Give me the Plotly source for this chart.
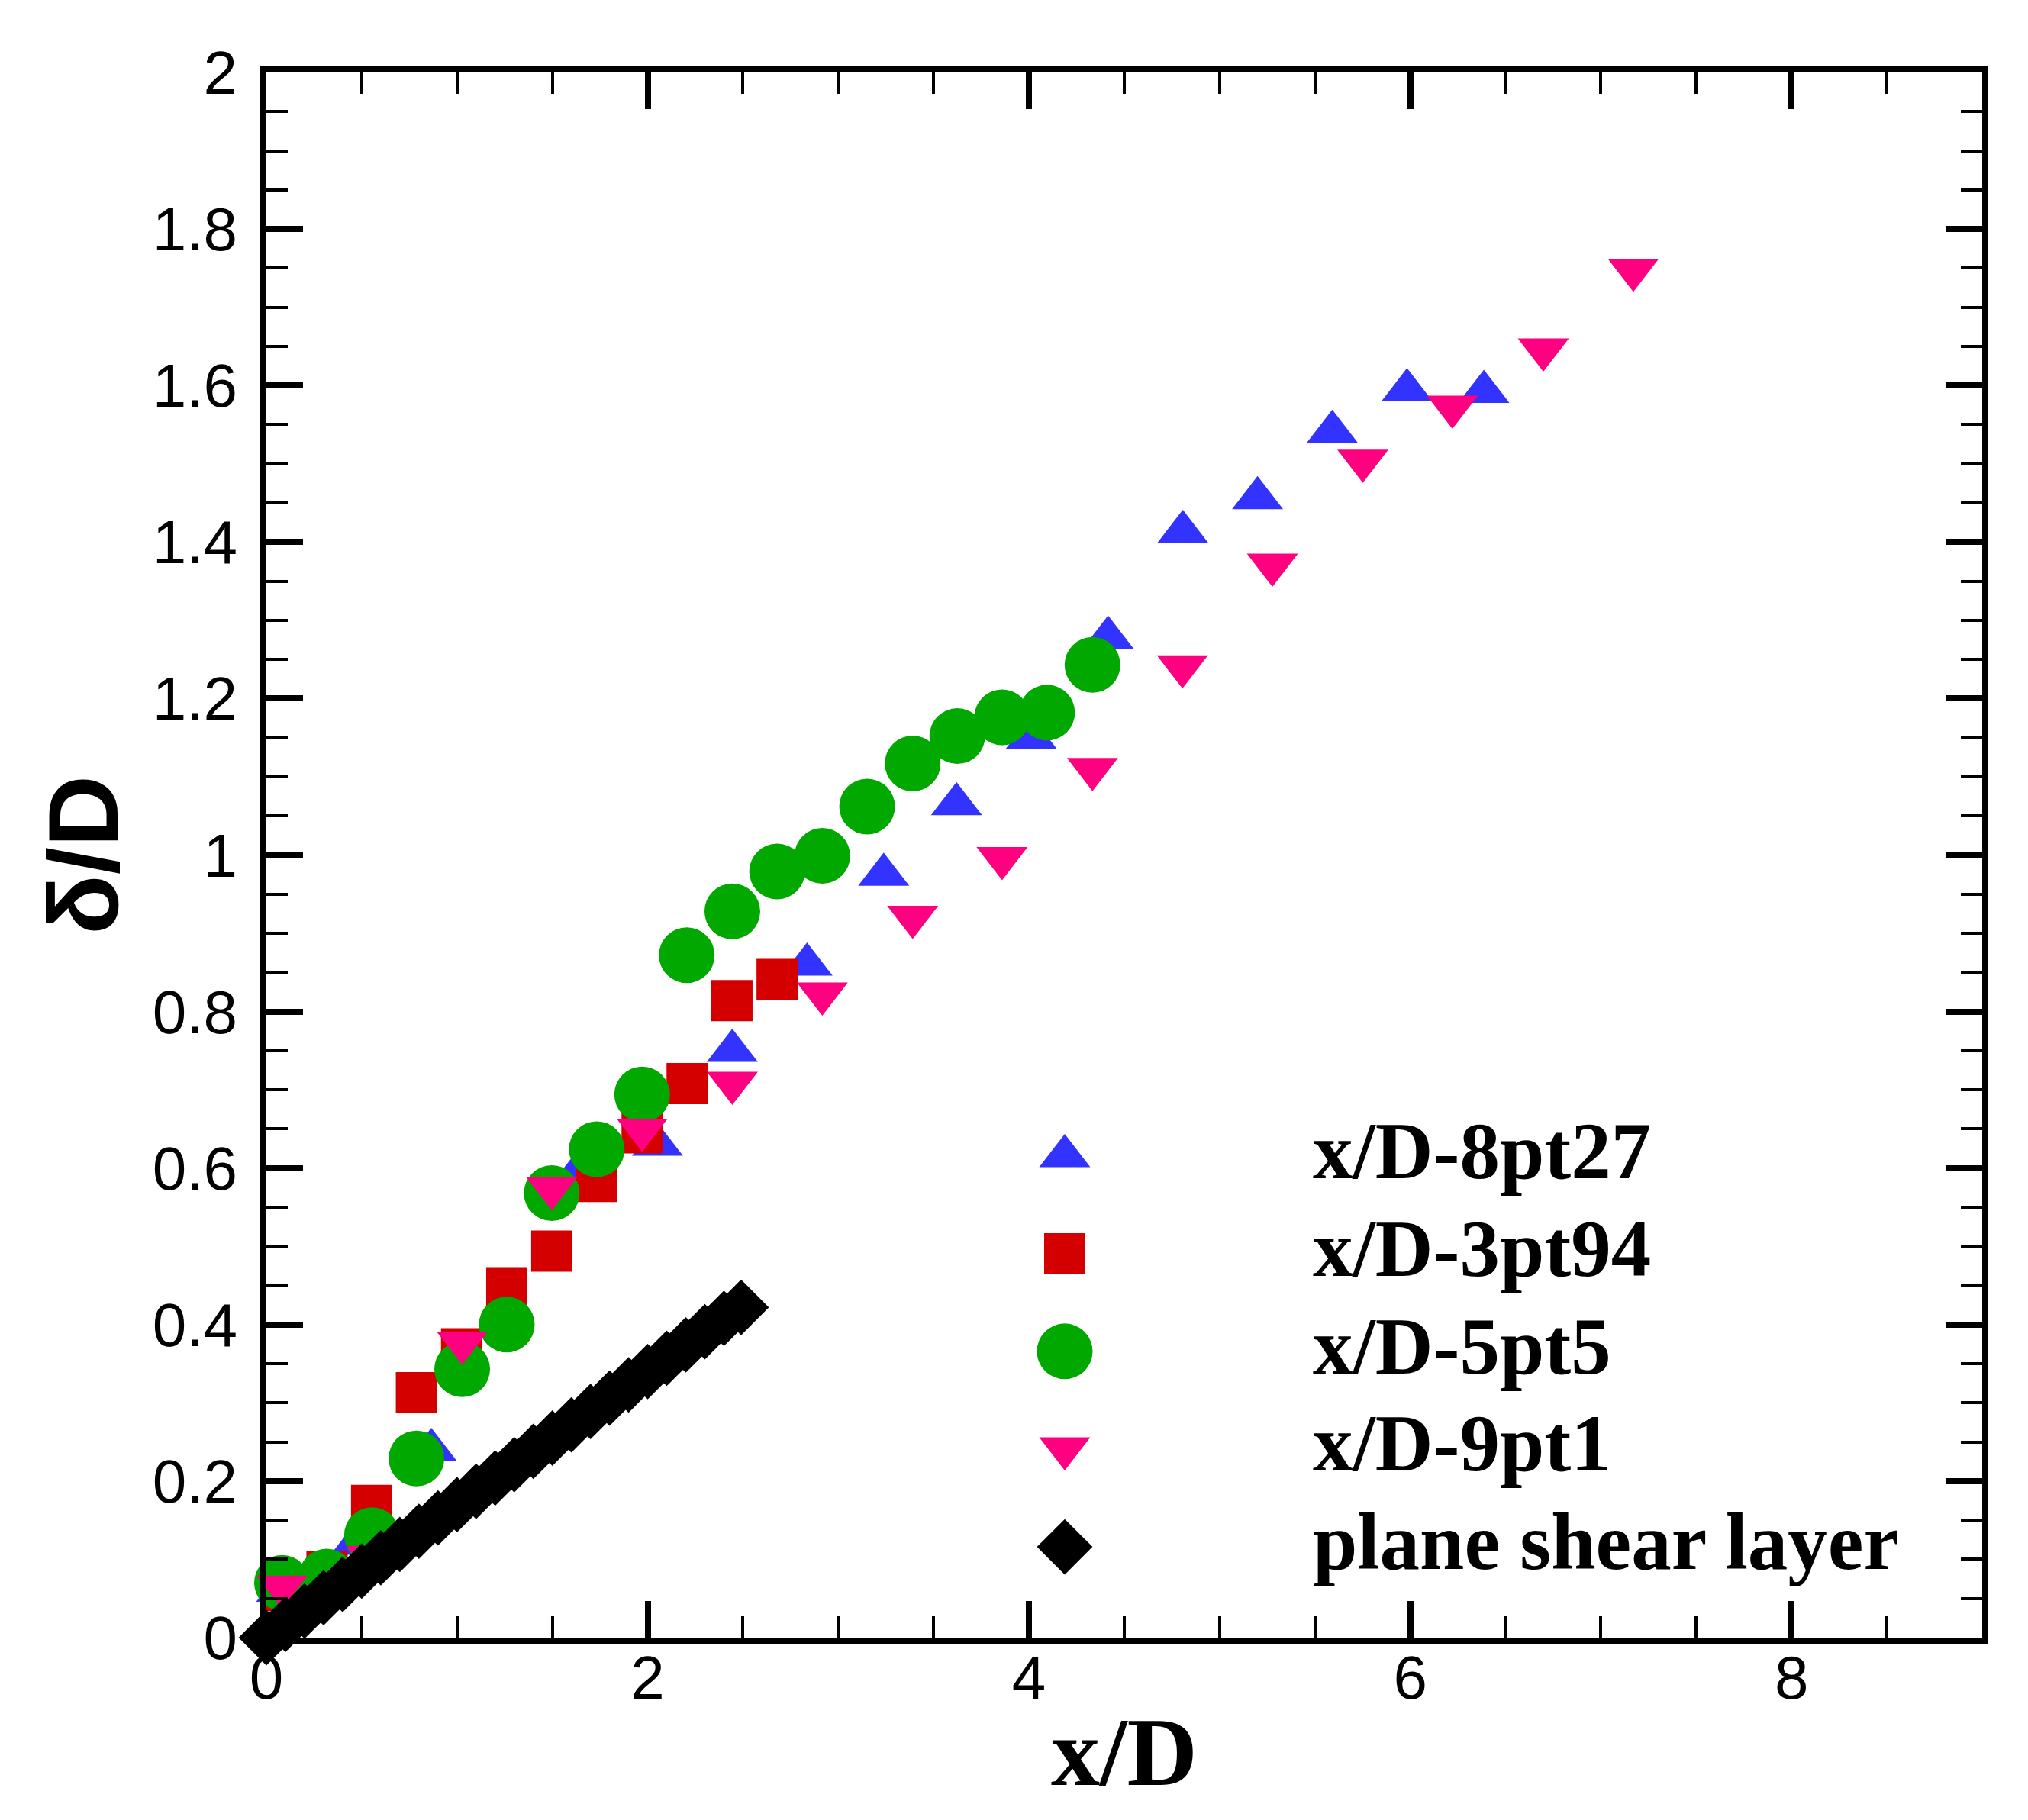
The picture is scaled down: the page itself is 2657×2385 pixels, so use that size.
import plotly.graph_objects as go

# ── DATA ──────────────────────────────────────────────────────────────────────
X_8PT27 = [0.08, 0.47, 0.865, 1.257, 1.649, 2.051, 2.444, 2.836, 3.238, 3.62,
           4.012, 4.415, 4.807, 5.199, 5.591, 5.983, 6.386]
Y_8PT27 = [0.06, 0.12, 0.24, 0.40, 0.60, 0.63, 0.75, 0.86, 0.975, 1.065, 1.15,
           1.278, 1.413, 1.456, 1.541, 1.594, 1.592]

X_3PT94 = [0.08, 0.318, 0.552, 0.787, 1.024, 1.261, 1.497, 1.733, 1.971,
           2.207, 2.442, 2.679]
Y_3PT94 = [0.06, 0.084, 0.169, 0.313, 0.369, 0.447, 0.494, 0.583, 0.645,
           0.708, 0.814, 0.841]

X_5PT5 = [0.082, 0.316, 0.554, 0.787, 1.027, 1.261, 1.497, 1.733, 1.971,
          2.205, 2.444, 2.679, 2.916, 3.151, 3.39, 3.624, 3.859, 4.095, 4.333]
Y_5PT5 = [0.070, 0.078, 0.131, 0.229, 0.343, 0.400, 0.568, 0.624, 0.694,
          0.872, 0.928, 0.979, 0.999, 1.062, 1.117, 1.152, 1.176, 1.182, 1.243]

X_9PT1 = [0.082, 0.553, 1.027, 1.497, 1.971, 2.444, 2.916, 3.39, 3.859, 4.333,
          4.805, 5.277, 5.751, 6.221, 6.698, 7.17]
Y_9PT1 = [0.065, 0.103, 0.377, 0.574, 0.649, 0.709, 0.823, 0.921, 0.996,
          1.110, 1.241, 1.371, 1.504, 1.573, 1.646, 1.748]

X_PSL = [0.0, 0.1, 0.2, 0.3, 0.4, 0.5, 0.6, 0.7, 0.8, 0.9, 1.0, 1.1, 1.2,
         1.3, 1.4, 1.5, 1.6, 1.7, 1.8, 1.9, 2.0, 2.1, 2.2, 2.3, 2.4, 2.49]
Y_PSL = [0.0, 0.017, 0.034, 0.051, 0.068, 0.085, 0.102, 0.119, 0.136, 0.153,
         0.170, 0.187, 0.204, 0.221, 0.238, 0.255, 0.272, 0.289, 0.306, 0.323,
         0.340, 0.357, 0.374, 0.391, 0.408, 0.422]

NAMES = ["x/D-8pt27", "x/D-3pt94", "x/D-5pt5", "x/D-9pt1", "plane shear layer"]

X_TICKS = [0, 2, 4, 6, 8]
X_TICKTEXT = ["0", "2", "4", "6", "8"]
Y_TICKS = [0, 0.2, 0.4, 0.6, 0.8, 1.0, 1.2, 1.4, 1.6, 1.8, 2.0]
Y_TICKTEXT = ["0", "0.2", "0.4", "0.6", "0.8", "1", "1.2", "1.4", "1.6", "1.8", "2"]

# ── STYLE ─────────────────────────────────────────────────────────────────────
W, H = 2657, 2385
SYMBOLS = ["triangle-up", "square", "circle", "triangle-down", "diamond"]
COLORS = ["#3333FF", "#D40000", "#00A800", "#FF0080", "#000000"]
SIZES = [58, 54, 73, 58, 56]
SANS = "Liberation Sans"
SERIF = "Liberation Serif"

series = [
    (X_8PT27, Y_8PT27),
    (X_3PT94, Y_3PT94),
    (X_5PT5, Y_5PT5),
    (X_9PT1, Y_9PT1),
    (X_PSL, Y_PSL),
]

fig = go.Figure()

for k, (xs, ys) in enumerate(series):
    fig.add_trace(go.Scatter(
        x=xs, y=ys, mode="markers", name=NAMES[k], showlegend=False,
        cliponaxis=False,
        marker=dict(symbol=SYMBOLS[k], size=SIZES[k], color=COLORS[k],
                    line=dict(width=0)),
    ))

# hand-made legend on an overlay axis in plot-fraction units
LEG_MARK_X = 0.4653
LEG_TEXT_X = 0.609
LEG_ROWS = [0.3077, 0.2453, 0.1829, 0.1209, 0.0580]
for k in range(len(NAMES)):
    fig.add_trace(go.Scatter(
        x=[LEG_MARK_X], y=[LEG_ROWS[k]], mode="markers", showlegend=False,
        xaxis="x2", yaxis="y2", hoverinfo="skip",
        marker=dict(symbol=SYMBOLS[k], size=SIZES[k], color=COLORS[k],
                    line=dict(width=0)),
    ))
    fig.add_annotation(
        x=LEG_TEXT_X, y=LEG_ROWS[k] + 0.003, xref="paper", yref="paper",
        text=f"<b>{NAMES[k]}</b>", showarrow=False,
        xanchor="left", yanchor="middle",
        font=dict(family=SERIF, size=105, color="black"),
    )

axis_common = dict(
    showgrid=False, zeroline=False,
    showline=True, linewidth=8, linecolor="black", mirror="allticks",
    ticks="inside", ticklen=48, tickwidth=8, tickcolor="black",
    tickfont=dict(family=SANS, size=80, color="black"),
)

fig.update_xaxes(
    range=[0, 9], tickmode="array", tickvals=X_TICKS, ticktext=X_TICKTEXT,
    minor=dict(dtick=0.5, ticks="inside", ticklen=28, tickwidth=4, tickcolor="black"),
    ticklabelstandoff=-24,
    title=dict(text="<b>x/D</b>", font=dict(family=SERIF, size=128, color="black"),
               standoff=10),
    **axis_common,
)
fig.update_yaxes(
    range=[0, 2], tickmode="array", tickvals=Y_TICKS, ticktext=Y_TICKTEXT,
    minor=dict(dtick=0.05, ticks="inside", ticklen=28, tickwidth=4, tickcolor="black"),
    ticklabelstandoff=14,
    title=dict(text="<b>δ/D</b>", font=dict(family=SANS, size=130, color="black"),
               standoff=4),
    **axis_common,
)

fig.update_layout(
    width=W, height=H,
    margin=dict(l=341, r=68, t=87, b=247, autoexpand=False),
    plot_bgcolor="white", paper_bgcolor="white",
    xaxis2=dict(domain=[0, 1], range=[0, 1], overlaying="x", visible=False),
    yaxis2=dict(domain=[0, 1], range=[0, 1], overlaying="y", visible=False),
    showlegend=False,
)

fig.write_html("out.html")
